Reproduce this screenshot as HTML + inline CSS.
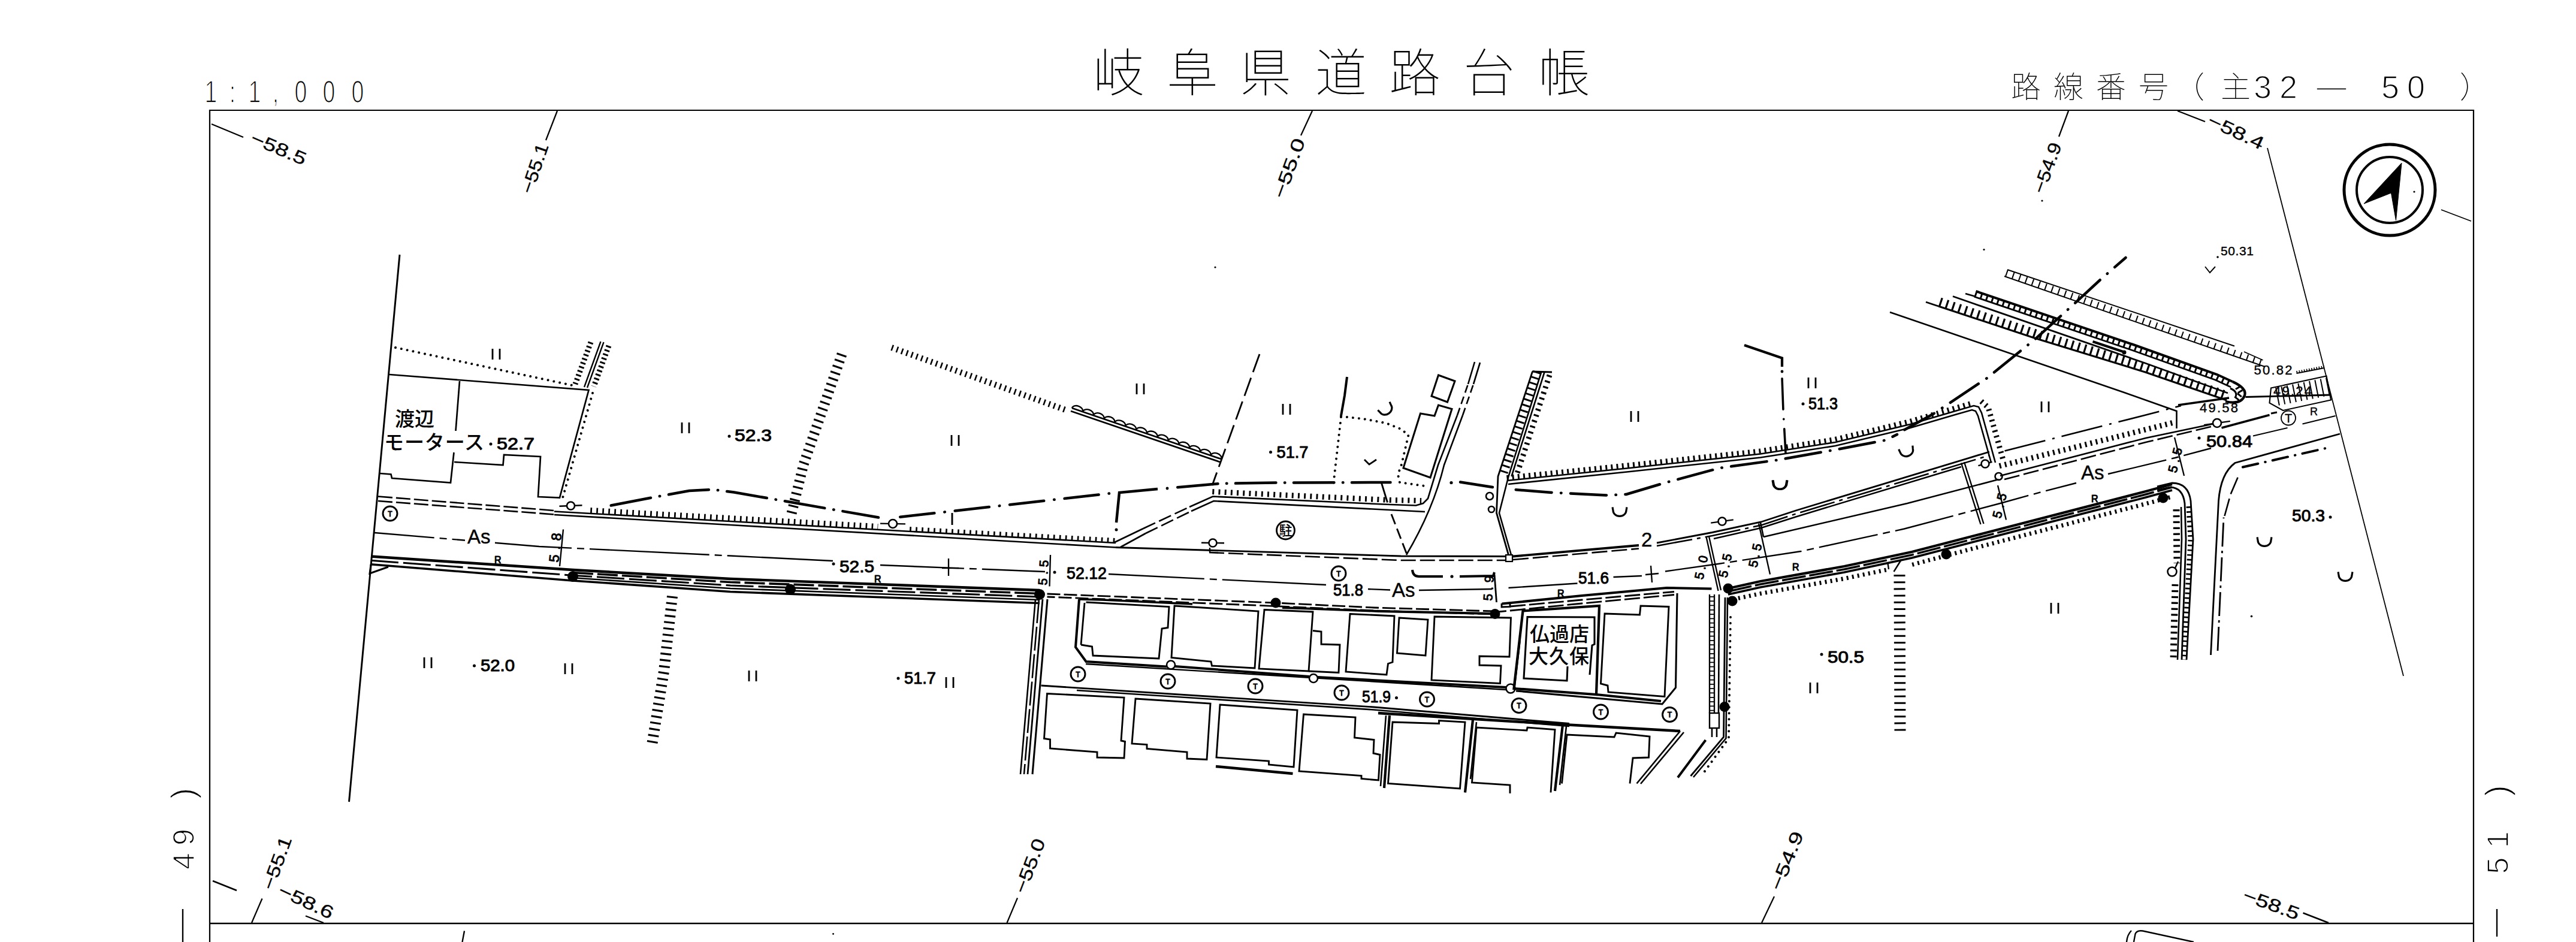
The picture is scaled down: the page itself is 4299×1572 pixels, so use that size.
<!DOCTYPE html>
<html lang="ja"><head><meta charset="utf-8"><title>岐阜県道路台帳</title>
<style>
html,body{margin:0;padding:0;background:#fff;}
body{width:4299px;height:1572px;overflow:hidden;font-family:"Liberation Sans","Noto Sans CJK JP",sans-serif;}
svg{display:block;position:absolute;left:0;top:0;}
svg *{vector-effect:none;}
path,line,polyline,circle,rect{stroke:#000;fill:none;stroke-linecap:butt;stroke-linejoin:miter;}
text{font-family:"Liberation Sans","Noto Sans CJK JP",sans-serif;fill:#000;stroke:none;}
text.b{font-weight:normal;stroke:#000;stroke-width:1px;stroke-linejoin:round;}
text.c{font-weight:normal;stroke:#000;stroke-width:0.3px;}
text.n{font-weight:normal;}
.t{font-weight:100;}
.thin{font-weight:normal;stroke:#fff;stroke-width:1.6px;paint-order:fill stroke;}
text.k{font-weight:500;}
text.n{stroke:#000;stroke-width:0.4px;}
.f{fill:#000;}
</style></head><body>
<svg width="4299" height="1572" viewBox="0 0 4299 1572">
<g id="frame">
<line x1="349" y1="184" x2="4129" y2="184" stroke-width="2.12" />
<line x1="350" y1="183" x2="350" y2="1572" stroke-width="2.24" />
<line x1="4128" y1="183" x2="4128" y2="1572" stroke-width="2.24" />
<line x1="349" y1="1541" x2="4129" y2="1541" stroke-width="2.71" />
</g>
<g id="titles">
<text transform="scale(0.72 1)" x="488.9 538.9 590.3 638.9 697.2 762.5 829.2" y="171" font-size="52" class="thin" text-anchor="middle">1:1,000</text>
<text x="1867 1990 2112 2238 2361 2485 2610" y="153" font-size="86" class="t" text-anchor="middle">岐阜県道路台帳</text>
<text x="3381 3452 3523 3594 3654 3731" y="163" font-size="50" class="t" text-anchor="middle">路線番号（主<tspan class="thin" font-size="54" x="3776 3819" y="164">32</tspan><tspan class="thin" x="3891" y="161">—</tspan><tspan class="thin" font-size="54" x="3989 4032" y="164">50</tspan><tspan x="4130" y="163">）</tspan></text>
</g>
<g id="misc">
<line x1="353" y1="207" x2="406" y2="229" stroke-width="2.24" />
<text transform="translate(416 238) rotate(23)" font-size="30" class="c" textLength="98" lengthAdjust="spacingAndGlyphs">−58.5</text>
<line x1="911" y1="234" x2="930" y2="185" stroke-width="2.24" />
<text transform="translate(888 325) rotate(-71)" font-size="30" class="c" textLength="86" lengthAdjust="spacingAndGlyphs">−55.1</text>
<line x1="2171" y1="226" x2="2190" y2="185" stroke-width="2.24" />
<text transform="translate(2143 333) rotate(-70)" font-size="30" class="c" textLength="104" lengthAdjust="spacingAndGlyphs">−55.0</text>
<line x1="3436" y1="228" x2="3452" y2="185" stroke-width="2.24" />
<text transform="translate(3411 325) rotate(-70)" font-size="30" class="c" textLength="88" lengthAdjust="spacingAndGlyphs">−54.9</text>
<line x1="3634" y1="185" x2="3680" y2="203" stroke-width="2.24" />
<text transform="translate(3682 208) rotate(25)" font-size="30" class="c" textLength="100" lengthAdjust="spacingAndGlyphs">−58.4</text>
<line x1="4074" y1="350" x2="4124" y2="369" stroke-width="1.77" />
<line x1="355" y1="1470" x2="395" y2="1486" stroke-width="2.6" />
<line x1="420" y1="1540" x2="437.5" y2="1499.5" stroke-width="2.24" />
<text transform="translate(456 1487) rotate(-70)" font-size="30" class="c" textLength="92" lengthAdjust="spacingAndGlyphs">−55.1</text>
<text transform="translate(462 1493) rotate(25)" font-size="30" class="c" textLength="98" lengthAdjust="spacingAndGlyphs">−58.6</text>
<line x1="510" y1="1528.5" x2="540" y2="1540" stroke-width="2.36" />
<line x1="1680.5" y1="1540" x2="1698" y2="1498.5" stroke-width="2.24" />
<text transform="translate(1711 1493) rotate(-69)" font-size="30" class="c" textLength="95" lengthAdjust="spacingAndGlyphs">−55.0</text>
<line x1="2940" y1="1540" x2="2961" y2="1496" stroke-width="2.24" />
<text transform="translate(2972 1488) rotate(-68)" font-size="30" class="c" textLength="103" lengthAdjust="spacingAndGlyphs">−54.9</text>
<text transform="translate(3741 1502) rotate(20)" font-size="30" class="c" textLength="98" lengthAdjust="spacingAndGlyphs">−58.5</text>
<line x1="3843.5" y1="1523.5" x2="3886" y2="1540" stroke-width="2.6" />
<circle cx="2028" cy="446" r="1.6" stroke-width="0.0" style="fill:#000" />
<circle cx="3311" cy="416.5" r="1.6" stroke-width="0.0" style="fill:#000" />
<circle cx="3408" cy="335" r="1.6" stroke-width="0.0" style="fill:#000" />
<circle cx="4029" cy="320" r="1.6" stroke-width="0.0" style="fill:#000" />
<circle cx="1390.5" cy="1558.5" r="1.4" stroke-width="0.0" style="fill:#000" />
<line x1="775" y1="1553.5" x2="771.5" y2="1572" stroke-width="2.36" />
<path d="M3561 1572 L3563.5 1558.5 Q3566 1552 3576 1553.5 L3661 1572" stroke-width="2.36" />
<path d="M3549 1572 Q3550 1560 3557 1553" stroke-width="2.36" />
<circle cx="3988" cy="317" r="76" stroke-width="5" style="fill:none" />
<circle cx="3988" cy="317" r="55" stroke-width="4.01" style="fill:none" />
<path d="M4008 272 L3945 340 L3990.5 322 L3998.5 368 Z" style="fill:#000" stroke-width="1"/>
<text transform="translate(324 0) rotate(-90)" x="-1437 -1397" y="0" font-size="50" class="thin" text-anchor="middle">49<tspan x="-1324" font-size="56">)</tspan></text>
<line x1="305" y1="1517" x2="305" y2="1572" stroke-width="2.36" />
<text transform="translate(4186 0) rotate(-90)" x="-1444.5 -1401" y="0" font-size="50" class="thin" text-anchor="middle">51<tspan x="-1319.5" font-size="56">)</tspan></text>
<line x1="4167" y1="1517" x2="4167" y2="1563" stroke-width="2.36" />
</g>
<g id="west">
<line x1="667" y1="425" x2="582.5" y2="1338" stroke-width="2.95" />
<path d="M660 580 L957.5 643.5" stroke-width="4" stroke-dasharray="0.01 10" style="stroke-linecap:round"/>
<path d="M989 656 L937.5 836" stroke-width="4" stroke-dasharray="0.01 10" style="stroke-linecap:round"/>
<path d="M650 625 L982.5 651 L934 830.5 L898 829 L902 762 L841 759 L839.5 776 L758 771" stroke-width="2.71" />
<path d="M757.5 755 L752 805.5 L654 798 L652.5 791.5 L634 790" stroke-width="2.71" />
<line x1="767" y1="636" x2="760.5" y2="719" stroke-width="2.71" />
<text transform="translate(659 711)" font-size="33" class="k" >渡辺</text>
<text transform="translate(641 750)" font-size="33" class="k" textLength="167" lengthAdjust="spacing">モータース</text>
<circle cx="819" cy="741" r="2.5" stroke-width="0.0" style="fill:#000" />
<text transform="translate(829 750)" font-size="27" class="b" textLength="63" lengthAdjust="spacingAndGlyphs">52.7</text>
<line x1="822" y1="582" x2="822" y2="600" stroke-width="2.83" />
<line x1="834" y1="582" x2="834" y2="600" stroke-width="2.83" />
<line x1="1138" y1="705" x2="1138" y2="723" stroke-width="2.83" />
<line x1="1150" y1="705" x2="1150" y2="723" stroke-width="2.83" />
<line x1="1588" y1="726" x2="1588" y2="744" stroke-width="2.83" />
<line x1="1600" y1="726" x2="1600" y2="744" stroke-width="2.83" />
<line x1="708" y1="1097" x2="708" y2="1115" stroke-width="2.83" />
<line x1="720" y1="1097" x2="720" y2="1115" stroke-width="2.83" />
<line x1="943" y1="1107" x2="943" y2="1125" stroke-width="2.83" />
<line x1="955" y1="1107" x2="955" y2="1125" stroke-width="2.83" />
<line x1="1250" y1="1119" x2="1250" y2="1137" stroke-width="2.83" />
<line x1="1262" y1="1119" x2="1262" y2="1137" stroke-width="2.83" />
<line x1="1579" y1="1130" x2="1579" y2="1148" stroke-width="2.83" />
<line x1="1591" y1="1130" x2="1591" y2="1148" stroke-width="2.83" />
<circle cx="1217" cy="728" r="2.5" stroke-width="0.0" style="fill:#000" />
<text transform="translate(1226 736)" font-size="27" class="b" textLength="62" lengthAdjust="spacingAndGlyphs">52.3</text>
<circle cx="791.5" cy="1111" r="2.5" stroke-width="0.0" style="fill:#000" />
<text transform="translate(802 1119.5)" font-size="27" class="b" textLength="57" lengthAdjust="spacingAndGlyphs">52.0</text>
<circle cx="1499" cy="1132" r="2.5" stroke-width="0.0" style="fill:#000" />
<text transform="translate(1509 1141)" font-size="27" class="b" textLength="53" lengthAdjust="spacingAndGlyphs">51.7</text>
<line x1="1002.5" y1="570" x2="975" y2="646" stroke-width="2.36" />
<line x1="1007.5" y1="571" x2="980" y2="647" stroke-width="2.36" />
<path d="M986 571 L960 641" stroke-width="9" stroke-dasharray="2.9700000000000006 4.23" />
<path d="M1016 577 L991 645" stroke-width="9" stroke-dasharray="2.9700000000000006 4.23" />
<path d="M631 828.5 L925 852" stroke-width="2.6" stroke-dasharray="24 6" stroke-dashoffset="0"/>
<path d="M631 836 L925 858.5" stroke-width="2.6" stroke-dasharray="24 6" stroke-dashoffset="0"/>
<circle cx="651" cy="857" r="12" stroke-width="2.95" style="fill:none" />
<text transform="translate(651 861.5)" font-size="12" class="b" text-anchor="middle">T</text>
<line x1="933.5" y1="844.7" x2="971.5" y2="843.3" stroke-width="2.36" />
<circle cx="952.5" cy="844" r="6.5" stroke-width="2.6" style="fill:#fff" />
<path d="M925 853.5 L1219 870 L1862 906" stroke-width="2.6" />
<path d="M925 859 L1219 876 L1862 913.5" stroke-width="2.6" />
<path d="M985.3 851.5 L1465.3 878.5" stroke-width="9" stroke-dasharray="2.7 7.3" />
<path d="M1518.2 882.5 L1862.2 901.5" stroke-width="7" stroke-dasharray="2.7 7.3" />
<line x1="1469.0" y1="873.6" x2="1511.0" y2="874.4" stroke-width="2.36" />
<circle cx="1490" cy="874" r="7" stroke-width="2.6" style="fill:#fff" />
<line x1="1589" y1="856" x2="1589" y2="876" stroke-width="2.95" />
<path d="M1017.5 844 L1090 830 L1150 819 L1190 817 L1225 821.5 L1466 863.5" stroke-width="4.5" stroke-dasharray="67.5 15.0 0.5 15.0" stroke-dashoffset="-2.25"  style="stroke-linecap:round"/>
<path d="M1500 863 L1851 823.5" stroke-width="4.5" stroke-dasharray="57.5 17.0 0.5 17.0" stroke-dashoffset="-2.25"  style="stroke-linecap:round"/>
<path d="M1405 591 L1341 775 L1320 861" stroke-width="17" stroke-dasharray="3.105 7.495000000000001" />
<path d="M1122 995 L1108 1120 L1088 1243" stroke-width="18" stroke-dasharray="3.105 7.495000000000001" />
<path d="M1488 580 L1781 685" stroke-width="10" stroke-dasharray="2.565 6.135" />
<path d="M1789 681 L2038 766" stroke-width="2.83" />
<path d="M1787 686 L2036 771" stroke-width="2.83" />
<path d="M1789 681 a8.5 6 19 0 1 17.8 6.07 a8.5 6 19 0 1 17.8 6.07 a8.5 6 19 0 1 17.8 6.07 a8.5 6 19 0 1 17.8 6.07 a8.5 6 19 0 1 17.8 6.07 a8.5 6 19 0 1 17.8 6.07 a8.5 6 19 0 1 17.8 6.07 a8.5 6 19 0 1 17.8 6.07 a8.5 6 19 0 1 17.8 6.07 a8.5 6 19 0 1 17.8 6.07 a8.5 6 19 0 1 17.8 6.07 a8.5 6 19 0 1 17.8 6.07 a8.5 6 19 0 1 17.8 6.07 a8.5 6 19 0 1 17.8 6.07" stroke-width="2.36" />
<path d="M625 889 L900 912 L1219 927.5 L1390 936" stroke-width="2.36" stroke-dasharray="200 9 12 9" stroke-dashoffset="100" />
<path d="M1469 943 L1744 954" stroke-width="2.36" stroke-dasharray="200 9 12 9" stroke-dashoffset="60" />
<rect x="776" y="880" width="50" height="30" style="fill:#fff;stroke:none"/>
<text transform="translate(780 907)" font-size="33" class="n" >As</text>
<text transform="translate(825 940)" font-size="16" class="b" >R</text>
<text transform="translate(1459 972)" font-size="16" class="b" >R</text>
<circle cx="1391" cy="941" r="2.5" stroke-width="0.0" style="fill:#000" />
<text transform="translate(1401 955)" font-size="27" class="b" textLength="58" lengthAdjust="spacingAndGlyphs">52.5</text>
<line x1="1583" y1="932" x2="1583" y2="961" stroke-width="2.36" />
<line x1="1572" y1="948" x2="1600" y2="948" stroke-width="2.36" />
<circle cx="1760" cy="955" r="2.5" stroke-width="0.0" style="fill:#000" />
<text transform="translate(1780 966)" font-size="27" class="b" textLength="67" lengthAdjust="spacingAndGlyphs">52.12</text>
<line x1="940" y1="883.5" x2="934" y2="945" stroke-width="2.36" />
<text transform="translate(932 939) rotate(-84)" font-size="23" class="b" textLength="49" lengthAdjust="spacing">5.8</text>
<line x1="1753" y1="926" x2="1751.5" y2="978.5" stroke-width="2.36" />
<text transform="translate(1747 977) rotate(-86)" font-size="21" class="b" textLength="42" lengthAdjust="spacing">5.5</text>
<path d="M619 928.5 L956 951.0 L1219 966.0 L1735 985.0" stroke-width="4.48" />
<path d="M956 955.6 L1219 971.5 L1735 990.5" stroke-width="3.54" stroke-dasharray="34 7" stroke-dashoffset="0"/>
<path d="M619 935.3 L956 960.2 L1219 977.0 L1735 996.0" stroke-width="3.07" stroke-dasharray="46 8" stroke-dashoffset="0"/>
<path d="M956 964.3 L1219 982.0 L1735 1001.0" stroke-width="2.6" />
<path d="M619 941.8 L956 968.9 L1219 987.5 L1735 1006.5" stroke-width="3.54" />
<path d="M619 942 L617 957 L648 946" stroke-width="2.95" />
<circle cx="956" cy="962" r="9" stroke-width="0.0" style="fill:#000" />
<circle cx="1319" cy="983.5" r="9" stroke-width="0.0" style="fill:#000" />
<circle cx="1735" cy="992" r="9" stroke-width="0.0" style="fill:#000" />
</g>
<g id="mid">
<path d="M1858 906 L1908 882" stroke-width="2.6" />
<path d="M1908 882 L1985 846" stroke-width="2.6" stroke-dasharray="22 7" stroke-dashoffset="0"/>
<path d="M1985 846 L2024 828.5 L2320.5 842 L2363 843.5 L2375 840 L2383 832 L2400 776 L2432 693" stroke-width="2.6" />
<path d="M2432 693 L2450 641" stroke-width="2.6" stroke-dasharray="13 7" stroke-dashoffset="0"/>
<path d="M2450 641 L2461 604" stroke-width="2.6" />
<path d="M1870 913 L1912 890" stroke-width="2.6" />
<path d="M1912 890 L1988 853" stroke-width="2.6" stroke-dasharray="22 7" stroke-dashoffset="0"/>
<path d="M1988 853 L2025.5 836 L2378 854" stroke-width="2.6" />
<path d="M2023.3 820.5 L2320.2 834.5 L2372.1 835.5" stroke-width="9" stroke-dasharray="2.9700000000000006 7.23" />
<path d="M2441 693 L2410 776 Q2392 850 2347 926" stroke-width="2.6" />
<path d="M2441 693 L2459 641" stroke-width="2.6" stroke-dasharray="13 7" stroke-dashoffset="0"/>
<path d="M2459 641 L2470 605" stroke-width="2.6" />
<path d="M1862 913.5 L2338 928 L2512 928.5" stroke-width="2.83" />
<path d="M2018 922 L2338 935 L2512 935" stroke-width="2.6" stroke-dasharray="25 7" stroke-dashoffset="0"/>
<path d="M1863 872 L1868 822 L1932 816" stroke-width="4.5" />
<circle cx="1863" cy="884" r="2.5" stroke-width="0.0" style="fill:#000" />
<circle cx="1948" cy="815" r="2.45" stroke-width="0.0" style="fill:#000" />
<path d="M1963 813.5 L2035.5 807 L2134 805.5 L2320.5 805" stroke-width="4.5" stroke-dasharray="67.5 14.5 0.5 14.5" stroke-dashoffset="-2.25"  style="stroke-linecap:round"/>
<circle cx="2422" cy="805.5" r="2.6" stroke-width="0.0" style="fill:#000" />
<path d="M2437 804.5 L2491 813" stroke-width="4.5" style="stroke-linecap:round"/>
<path d="M2305.5 806 L2315.5 838.5" stroke-width="2.83" />
<path d="M2322 858 L2349 928" stroke-width="2.83" stroke-dasharray="18 8" stroke-dashoffset="0"/>
<path d="M2238 696 L2225.5 806" stroke-width="4" stroke-dasharray="0.01 10" style="stroke-linecap:round"/>
<path d="M2238 695 L2275.5 699 L2313 706 L2338 716 L2350.5 726 L2339 775 L2333 792 L2336 805 L2378 811" stroke-width="4" stroke-dasharray="0.01 10" style="stroke-linecap:round"/>
<path d="M2248 629 L2244 660 L2238 694" stroke-width="4" />
<path d="M2370.5 690 L2394 694 L2400.5 676 L2423 682.5 L2387 797 L2342 781 Z" stroke-width="3.07" />
<path d="M2400.5 626 L2428 636 L2415.5 671 L2389 661 Z" stroke-width="3.07" />
<path transform="translate(2313 683) rotate(-35)" d="M-12 -6.6000000000000005 L-11 -1.2000000000000002 A11 9.600000000000001 0 0 0 11 -1.2000000000000002 L12 -6.6000000000000005" stroke-width="3.2"/>
<path d="M2277 767 l8 8 l12 -8" stroke-width="2.83" />
<path d="M2102 591 L2023 810" stroke-width="2.83" stroke-dasharray="32 10" stroke-dashoffset="0"/>
<line x1="1897" y1="640" x2="1897" y2="658" stroke-width="2.83" />
<line x1="1909" y1="640" x2="1909" y2="658" stroke-width="2.83" />
<line x1="2141" y1="674" x2="2141" y2="692" stroke-width="2.83" />
<line x1="2153" y1="674" x2="2153" y2="692" stroke-width="2.83" />
<circle cx="2120.5" cy="754.5" r="2.5" stroke-width="0.0" style="fill:#000" />
<text transform="translate(2130.5 764)" font-size="27" class="b" textLength="53" lengthAdjust="spacingAndGlyphs">51.7</text>
<circle cx="2145.5" cy="885" r="15" stroke-width="2.83" style="fill:none" />
<text transform="translate(2145.5 893)" font-size="22" class="k" text-anchor="middle">駐</text>
<line x1="2005.0" y1="905.7" x2="2043.0" y2="906.3" stroke-width="2.36" />
<circle cx="2024" cy="906" r="6.5" stroke-width="2.6" style="fill:#fff" />
<line x1="2019" y1="914" x2="2019" y2="922" stroke-width="2.36" />
<path d="M1850 958 L2213 976" stroke-width="2.36" stroke-dasharray="200 9 12 9" stroke-dashoffset="40" />
<text transform="translate(2225 993.5)" font-size="27" class="b" textLength="50" lengthAdjust="spacingAndGlyphs">51.8</text>
<line x1="2283" y1="983" x2="2320" y2="984.5" stroke-width="2.36" />
<text transform="translate(2323 996)" font-size="33" class="n" >As</text>
<line x1="2368" y1="985" x2="2490" y2="983" stroke-width="2.36" />
<circle cx="2234" cy="957" r="12" stroke-width="2.95" style="fill:none" />
<text transform="translate(2234 961.5)" font-size="12" class="b" text-anchor="middle">T</text>
<path d="M2357 951 Q2358 962 2368 962 L2408 962" stroke-width="4" />
<circle cx="2423" cy="962" r="2.6" stroke-width="0.0" style="fill:#000" />
<path d="M2436 962 L2492 961 L2494 955" stroke-width="4" />
<line x1="2494" y1="958.5" x2="2497.5" y2="1005" stroke-width="2.83" />
<text transform="translate(2490 1003) rotate(-86)" font-size="21" class="b" textLength="42" lengthAdjust="spacing">5.9</text>
<path d="M1747.5 991 L2129 1006 L2293 1014 L2494 1020" stroke-width="2.83" stroke-dasharray="22 6" stroke-dashoffset="0"/>
<path d="M1747.5 996 L2129 1011.5 L2293 1019 L2494 1025" stroke-width="2.83" stroke-dasharray="22 6" stroke-dashoffset="9"/>
<circle cx="2129" cy="1006" r="8.5" stroke-width="0.0" style="fill:#000" />
<circle cx="2495" cy="1024.5" r="8.5" stroke-width="0.0" style="fill:#000" />
<path d="M1728 1000 L1703 1292" stroke-width="2.6" />
<path d="M1734 1000 L1709 1292" stroke-width="2.6" stroke-dasharray="40 6" stroke-dashoffset="0"/>
<path d="M1740 1000 L1715 1292" stroke-width="2.83" />
<path d="M1748 1000 L1723 1292" stroke-width="3.07" />
<path d="M1801 1000 L1795 1080 L1812.5 1104 L1947 1112.5" stroke-width="4.01" />
<path d="M1961 1112 L2185 1129" stroke-width="4.01" />
<path d="M2199 1130 L2514 1147" stroke-width="4.01" />
<path d="M1812 1108 L2514 1151" stroke-width="2.36" />
<path d="M1810 1006 L1804 1076" stroke-width="2.83" />
<path d="M1812.5 1005 L1951 1012.5 L1949 1047.5 L1939 1049 L1934 1099 L1824 1094 L1822.5 1079 L1804 1076" stroke-width="2.89" />
<path d="M1960 1011 L2100 1020 L2094 1115 L2022.5 1111 L2021 1104 L1955 1097.5 Z" stroke-width="2.89" />
<path d="M2110 1017.5 L2191 1021 L2184 1120 L2101 1116 Z" stroke-width="2.89" />
<path d="M2191 1052.5 L2205 1054 L2205 1075 L2236 1076 L2234 1122.5 L2184 1120" stroke-width="2.89" />
<path d="M2253 1024.5 L2327 1028 L2324 1105 L2316.5 1107.5 L2314 1126 L2246 1121 Z" stroke-width="2.89" />
<path d="M2335 1031 L2383 1034 L2379 1094 L2331.5 1090 Z" stroke-width="2.89" />
<path d="M2394 1029 L2521.5 1031 L2519 1096 L2469 1095 L2469 1110 L2505 1111 L2503.5 1140.5 L2389 1135 Z" stroke-width="2.89" />
<path d="M1801 1000 L1840 1001 L1990 1008" stroke-width="3.54" />
<path d="M2140 1014 L2300 1020 L2490 1024" stroke-width="3.78" />
<circle cx="1954" cy="1109.5" r="7" stroke-width="2.6" style="fill:#fff" />
<circle cx="2192" cy="1132" r="7" stroke-width="2.6" style="fill:#fff" />
<circle cx="2521" cy="1149" r="7.5" stroke-width="2.6" style="fill:#fff" />
<circle cx="1799" cy="1125" r="12" stroke-width="2.95" style="fill:none" />
<text transform="translate(1799 1129.5)" font-size="12" class="b" text-anchor="middle">T</text>
<circle cx="1949" cy="1137" r="12" stroke-width="2.95" style="fill:none" />
<text transform="translate(1949 1141.5)" font-size="12" class="b" text-anchor="middle">T</text>
<circle cx="2095" cy="1145" r="12" stroke-width="2.95" style="fill:none" />
<text transform="translate(2095 1149.5)" font-size="12" class="b" text-anchor="middle">T</text>
<circle cx="2239" cy="1156" r="12" stroke-width="2.95" style="fill:none" />
<text transform="translate(2239 1160.5)" font-size="12" class="b" text-anchor="middle">T</text>
<circle cx="2381.5" cy="1167" r="12" stroke-width="2.95" style="fill:none" />
<text transform="translate(2381.5 1171.5)" font-size="12" class="b" text-anchor="middle">T</text>
<circle cx="2535" cy="1177.5" r="12" stroke-width="2.95" style="fill:none" />
<text transform="translate(2535 1182.0)" font-size="12" class="b" text-anchor="middle">T</text>
<circle cx="2671.5" cy="1188" r="12" stroke-width="2.95" style="fill:none" />
<text transform="translate(2671.5 1192.5)" font-size="12" class="b" text-anchor="middle">T</text>
<circle cx="2786.5" cy="1192.5" r="12" stroke-width="2.95" style="fill:none" />
<text transform="translate(2786.5 1197.0)" font-size="12" class="b" text-anchor="middle">T</text>
<text transform="translate(2273 1172)" font-size="27" class="b" textLength="48" lengthAdjust="spacingAndGlyphs">51.9</text>
<circle cx="2330.5" cy="1164.5" r="2.5" stroke-width="0.0" style="fill:#000" />
<path d="M2541.5 1019.5 L2669 1011 L2664 1159 L2526.5 1149 Z" stroke-width="4.25" />
<path d="M2536 1070 L2527 1148" stroke-width="3.54" />
<path d="M2653 1126 L2657 1077 L2661 1075 L2661 1030 L2549 1029.5 L2543 1132 L2615 1136 L2616 1112" stroke-width="3.07" />
<text transform="translate(2553 1070)" font-size="33" class="k" >仏過店</text>
<text transform="translate(2551 1107)" font-size="33" class="k" textLength="101" lengthAdjust="spacing">大久保</text>
<path d="M2678 1024 L2736.5 1026 L2738 1011 L2785 1012.5 L2778 1162.5 L2684 1155 L2683 1144 L2671.5 1141 Z" stroke-width="2.89" />
<path d="M2799 990 L2796.5 1147.5 L2774 1175 L2530 1153" stroke-width="3.07" />
<path d="M2664 1159 L2772 1170" stroke-width="4.01" />
<path d="M2506.5 1007.5 L2640 994 L2781.5 981 L2856.5 982.5" stroke-width="4.01" />
<path d="M2506 1007 L2506 1013 L2520 1012.5 L2520 1006" stroke-width="2.83" />
<path d="M2520 1012 L2640 1001 L2794 987.5" stroke-width="2.83" stroke-dasharray="26 6" stroke-dashoffset="0"/>
<path d="M2500 1021 L2640 1007 L2794 992.5" stroke-width="2.83" stroke-dasharray="26 6" stroke-dashoffset="12"/>
<path d="M1737.5 1144 L2293 1180 L2619 1207.5" stroke-width="2.89" />
<path d="M1797 1152 L2293 1184.5 L2619 1212" stroke-width="2.6" />
<path d="M2300 1190 L2608 1209 L2804 1220" stroke-width="4.5" />
<path d="M1747.5 1157.5 L1876 1164 L1871 1236 L1877.5 1237.5 L1876 1265 L1831 1264 L1831 1255 L1752.5 1249 L1752.5 1234 L1742.5 1232.5 Z" stroke-width="2.89" />
<path d="M1895 1166 L2020 1174 L2014 1267.5 L1981 1266 L1981 1255 L1914 1249.5 L1914 1242.5 L1889 1241 Z" stroke-width="2.89" />
<path d="M2036 1176 L2165 1185 L2159 1280 L2117.5 1276 L2117.5 1270 L2030 1264 Z" stroke-width="2.89" />
<path d="M2029 1279 L2157.5 1291" stroke-width="4.5" />
<path d="M2175.5 1192 L2262 1197 L2260.5 1231 L2293 1234.5 L2292 1257 L2303 1259.5 L2300.5 1302 L2272 1299.5 L2272 1294.5 L2168 1287 Z" stroke-width="2.89" />
<path d="M2319 1194 L2310 1315" stroke-width="4.2" />
<path d="M2313 1194 L2304 1312" stroke-width="2.6" />
<path d="M2324 1205 L2401.5 1207.5 L2401.5 1202.5 L2445 1205 L2436.5 1316 L2316.5 1307.5 Z" stroke-width="2.89" />
<path d="M2458 1201 L2445 1322.5" stroke-width="4.2" />
<path d="M2464 1205 L2454 1300" stroke-width="2.6" />
<path d="M2520 1324 L2520 1310 L2456.5 1306 L2464 1214 L2548 1219 L2549 1214 L2595 1217.5 L2588 1322.5" stroke-width="2.89" />
<path d="M2608 1209 L2595 1320" stroke-width="4.2" />
<path d="M2614 1212 L2603 1310" stroke-width="2.6" />
<path d="M2606.5 1307.5 L2615 1226 L2694 1230 L2697 1223 L2753 1229 L2751.5 1264 L2725 1265 L2720 1307.5" stroke-width="2.89" />
<path d="M2804 1220 L2731.5 1307.5" stroke-width="2.6" />
<path d="M2810 1222 L2738 1308" stroke-width="2.6" />
</g>
<g id="east">
<path d="M2557.5 620 L2500 795 L2497.5 856 L2517.5 926" stroke-width="2.83" />
<path d="M2572.5 620 L2517.5 795 L2502 856 L2522 926" stroke-width="2.6" />
<path d="M2577.5 621 L2522.5 795" stroke-width="2.6" />
<path d="M2565 620 L2508 795" stroke-width="13" stroke-dasharray="2.9700000000000006 6.73" />
<path d="M2586 626 L2532 790" stroke-width="9" stroke-dasharray="3.24 6.66" />
<line x1="2557" y1="620" x2="2590" y2="621" stroke-width="2.83" />
<circle cx="2486" cy="828" r="6" stroke-width="2.6" style="fill:none" />
<circle cx="2489" cy="850" r="5" stroke-width="2.6" style="fill:none" />
<rect x="2513" y="926" width="11" height="11" stroke-width="2.2" style="fill:#fff"/>
<path d="M2515 802 L2720 781 L2938 757.5 L3063 738 L3188 708 L3263 686 L3294 677 L3302 679 L3307 689 L3330 772" stroke-width="2.6" />
<path d="M2517 808 L2720 787 L2938 763.5 L3063 744 L3188 714 L3263 692 L3291 684 L3297 686 L3301 694 L3323 772" stroke-width="2.6" />
<path d="M2514.5 797.0 L2719.5 776.0 L2937.4 752.5 L3062.0 733.1 L3186.7 703.2 L3261.6 681.2 L3292.6 672.2" stroke-width="8" stroke-dasharray="2.9700000000000006 6.23" />
<path d="M3306.4 669.7 L3318.2 680.1 L3343.3 768.5" stroke-width="9" stroke-dasharray="2.9700000000000006 6.23" />
<circle cx="3335.5" cy="795" r="6" stroke-width="2.6" style="fill:#fff" />
<line x1="3301.4" y1="777.1" x2="3324.6" y2="770.9" stroke-width="2.36" />
<circle cx="3313" cy="774" r="6.5" stroke-width="2.6" style="fill:#fff" />
<path d="M2527.5 817 L2591 822 L2682.5 826.5 L2714 825 L2777.5 806 L2870 781 L2967.5 767.5 L3065.5 750 L3147 734.5 L3166 725" stroke-width="4.5" stroke-dasharray="60.0 15.5 0.5 15.5" stroke-dashoffset="-2.25"  style="stroke-linecap:round"/>
<path d="M3547.5 430 L3506 466 L3461 507.5 L3397.5 565 L3316 631 L3226 691 L3175 719" stroke-width="4.5" stroke-dasharray="56.5 16.0 0.5 16.0" stroke-dashoffset="32.25"  style="stroke-linecap:round"/>
<path d="M2911 576 L2974 597.5 L2974 612" stroke-width="4.25" />
<path d="M2974 630 L2976 685 L2980 756" stroke-width="3.6" stroke-dasharray="51.4 16.05 0.5 16.05" stroke-dashoffset="-1.8"  style="stroke-linecap:round"/>
<circle cx="2974" cy="620" r="2.4" stroke-width="0.0" style="fill:#000" />
<line x1="2722" y1="686" x2="2722" y2="704" stroke-width="2.83" />
<line x1="2734" y1="686" x2="2734" y2="704" stroke-width="2.83" />
<line x1="3018" y1="630" x2="3018" y2="648" stroke-width="2.83" />
<line x1="3030" y1="630" x2="3030" y2="648" stroke-width="2.83" />
<line x1="3407" y1="670" x2="3407" y2="688" stroke-width="2.83" />
<line x1="3419" y1="670" x2="3419" y2="688" stroke-width="2.83" />
<line x1="3423" y1="1006" x2="3423" y2="1024" stroke-width="2.83" />
<line x1="3435" y1="1006" x2="3435" y2="1024" stroke-width="2.83" />
<line x1="3021" y1="1139" x2="3021" y2="1157" stroke-width="2.83" />
<line x1="3033" y1="1139" x2="3033" y2="1157" stroke-width="2.83" />
<circle cx="3009" cy="674" r="2.5" stroke-width="0.0" style="fill:#000" />
<text transform="translate(3018 682.5)" font-size="27" class="b" textLength="49" lengthAdjust="spacingAndGlyphs">51.3</text>
<circle cx="3040" cy="1092" r="2.5" stroke-width="0.0" style="fill:#000" />
<text transform="translate(3050 1106)" font-size="27" class="b" textLength="61" lengthAdjust="spacingAndGlyphs">50.5</text>
<path transform="translate(2703 853) rotate(0)" d="M-12 -6.6000000000000005 L-11 -1.2000000000000002 A11 9.600000000000001 0 0 0 11 -1.2000000000000002 L12 -6.6000000000000005" stroke-width="3.2"/>
<path transform="translate(2970 808) rotate(0)" d="M-12 -6.6000000000000005 L-11 -1.2000000000000002 A11 9.600000000000001 0 0 0 11 -1.2000000000000002 L12 -6.6000000000000005" stroke-width="3.2"/>
<path transform="translate(3182 753) rotate(-15)" d="M-12 -6.6000000000000005 L-11 -1.2000000000000002 A11 9.600000000000001 0 0 0 11 -1.2000000000000002 L12 -6.6000000000000005" stroke-width="3.2"/>
<path transform="translate(2971 808) rotate(0)" d="M-12 -6.6000000000000005 L-11 -1.2000000000000002 A11 9.600000000000001 0 0 0 11 -1.2000000000000002 L12 -6.6000000000000005" stroke-width="3.2"/>
<line x1="2855.2" y1="872.6" x2="2892.8" y2="867.4" stroke-width="2.36" />
<circle cx="2874" cy="870" r="6.5" stroke-width="2.6" style="fill:#fff" />
<path d="M2525 928.5 L2735 910" stroke-width="3.78" />
<path d="M2765 906 L2857.5 888.5 L2939 871 L2997 852 L3043 838 L3320 754" stroke-width="2.83" />
<path d="M2525 934 L2735 915.5" stroke-width="2.6" stroke-dasharray="26 7" stroke-dashoffset="0"/>
<path d="M2765 911 L2857.5 894 L2939 876.5 L2997 857.5 L3043 843.5 L3320 760" stroke-width="2.6" stroke-dasharray="60 8 6 8" stroke-dashoffset="0" />
<path d="M2860 899 L2939 881 L2997 862.5 L3043 848.5 L3273 779" stroke-width="2.6" />
<text transform="translate(2739 912)" font-size="33" class="n" >2</text>
<path d="M2943 896 L3183 840 L3335.5 800" stroke-width="2.6" />
<path d="M2938 872 L2943 896" stroke-width="2.6" />
<line x1="2517.5" y1="981" x2="2632.5" y2="973.5" stroke-width="2.36" />
<text transform="translate(2634 973.5)" font-size="27" class="b" textLength="51" lengthAdjust="spacingAndGlyphs">51.6</text>
<line x1="2692.5" y1="963" x2="2740" y2="961" stroke-width="2.36" />
<line x1="2755" y1="944" x2="2757" y2="972" stroke-width="2.36" />
<line x1="2746" y1="959" x2="2768" y2="957" stroke-width="2.36" />
<path d="M2779 953.5 L2867.5 941 L3005.5 920 L3178 882.5 L3338 840 L3410.5 820 L3465 806" stroke-width="2.36" stroke-dasharray="100 9 12 9" stroke-dashoffset="0" />
<text transform="translate(3473 800)" font-size="33" class="n" >As</text>
<path d="M3518 791 L3630 764 L3690 748" stroke-width="2.36" stroke-dasharray="100 9 12 9" stroke-dashoffset="0" />
<text transform="translate(2599 996)" font-size="16" class="b" >R</text>
<text transform="translate(2991 952)" font-size="16" class="b" >R</text>
<text transform="translate(3490 838)" font-size="16" class="b" >R</text>
<path d="M2847.5 896 L2867.5 986" stroke-width="2.36" />
<path d="M2852 895 L2872 985" stroke-width="2.36" />
<text transform="translate(2842 968) rotate(-78)" font-size="21" class="b" textLength="40" lengthAdjust="spacing">5.0</text>
<text transform="translate(2882 965) rotate(-78)" font-size="21" class="b" textLength="40" lengthAdjust="spacing">5.5</text>
<path d="M2935 873.5 L2954 958.5" stroke-width="2.36" />
<text transform="translate(2932 948) rotate(-78)" font-size="21" class="b" textLength="40" lengthAdjust="spacing">5.5</text>
<path d="M3273 772.5 L3305.5 875" stroke-width="2.36" />
<path d="M3278 771 L3310.5 874" stroke-width="2.36" />
<path d="M3334 810 L3348 867.5" stroke-width="2.36" />
<text transform="translate(3339 866) rotate(-76)" font-size="21" class="b" textLength="42" lengthAdjust="spacing">5.5</text>
<path d="M3629 730 L3645 794" stroke-width="2.36" />
<text transform="translate(3632 790) rotate(-76)" font-size="21" class="b" textLength="42" lengthAdjust="spacing">5.5</text>
<path d="M2884 982 L2938 970 L3078 945 L3190.5 921 L3310.5 890 L3581 820 L3625 808" stroke-width="4.25" />
<path d="M2884 987 L2938 975 L3078 950 L3190.5 926 L3310.5 895 L3581 825 L3625 813" stroke-width="3.54" stroke-dasharray="40 6" stroke-dashoffset="0"/>
<path d="M2884 992 L2938 980 L3078 955 L3190.5 931 L3310.5 900 L3581 830 L3625 818" stroke-width="3.54" />
<path d="M2900.9 998.4 L2938.8 990.4 L3078.8 965.4 L3150.9 950.4" stroke-width="7" stroke-dasharray="2.9700000000000006 6.23" />
<path d="M3191.2 942.3 L3311.6 910.4 L3582.1 840.4 L3623.2 829.3" stroke-width="7" stroke-dasharray="2.9700000000000006 6.23" />
<circle cx="2884" cy="982" r="8.5" stroke-width="0.0" style="fill:#000" />
<circle cx="2891" cy="1003" r="8.5" stroke-width="0.0" style="fill:#000" />
<circle cx="3248" cy="925" r="8.5" stroke-width="0.0" style="fill:#000" />
<circle cx="3610" cy="831" r="8.5" stroke-width="0.0" style="fill:#000" />
<path d="M3150.5 940 L3152 950" stroke-width="2.36" />
<path d="M3173 934 L3160.5 954" stroke-width="2.36" />
<path d="M3170 959 L3171 1224" stroke-width="19" stroke-dasharray="2.9700000000000006 8.23" />
<path d="M2853 992 L2853 1190" stroke-width="2.36" />
<path d="M2861 992 L2861 1190" stroke-width="2.36" />
<path d="M2857 995 L2857 1190" stroke-width="8" stroke-dasharray="1.7550000000000001 5.545" />
<path d="M2869 992 L2868 1190" stroke-width="2.6" />
<path d="M2879 997 L2876.5 1230 L2821.5 1295" stroke-width="2.83" />
<path d="M2883 997 L2880.5 1232 L2826 1297" stroke-width="2.6" />
<path d="M2888 1030 L2885 1232 L2840 1294" stroke-width="4" stroke-dasharray="0.01 10" style="stroke-linecap:round"/>
<rect x="2853" y="1190" width="16" height="25" stroke-width="2.4" style="fill:#fff"/>
<path d="M2857 1215 L2857 1230" stroke-width="2.6" />
<path d="M2865 1215 L2865 1230" stroke-width="2.6" />
<path d="M2846.5 1235 L2800 1297.5" stroke-width="4" />
<circle cx="2878" cy="1179.5" r="8.5" stroke-width="0.0" style="fill:#000" />
<path d="M3600 812 L3625 806 Q3652 806 3656 836 L3660 900 L3649 1101" stroke-width="2.83" />
<path d="M3600 818 L3622 813 Q3643 814 3646 840 L3648 900 L3641 1101" stroke-width="2.83" />
<path d="M3653 845 L3656 900 L3645 1101" stroke-width="9" stroke-dasharray="2.7 5.3" />
<path d="M3640 846 L3641 900 L3634 1101" stroke-width="2.6" />
<path d="M3632 850 L3633 940" stroke-width="11" stroke-dasharray="3.24 6.66" />
<path d="M3630 975 L3627 1101" stroke-width="11" stroke-dasharray="3.24 6.66" />
<circle cx="3625" cy="954" r="7.5" stroke-width="2.6" style="fill:#fff" />
<line x1="3630" y1="948" x2="3635" y2="937" stroke-width="2.36" />
<path d="M3689.5 1093 L3702.5 836 Q3706 790 3730 772.5 L3905 724" stroke-width="2.83" />
<path d="M3701 1086 L3711 863.5" stroke-width="2.83" stroke-dasharray="40 7 4 7" stroke-dashoffset="0" />
<path d="M3712.5 861 L3722.5 825 L3737.5 790" stroke-width="2.6" stroke-dasharray="30 8" stroke-dashoffset="0"/>
<path d="M3741 780 L3890 746" stroke-width="4" stroke-dasharray="26 12.25 0.5 12.25" stroke-dashoffset="-2.0"  style="stroke-linecap:round"/>
<text transform="translate(3825 870)" font-size="27" class="b" textLength="55" lengthAdjust="spacingAndGlyphs">50.3</text>
<circle cx="3889" cy="863" r="2.5" stroke-width="0.0" style="fill:#000" />
<path transform="translate(3779 903) rotate(0)" d="M-12 -6.6000000000000005 L-11 -1.2000000000000002 A11 9.600000000000001 0 0 0 11 -1.2000000000000002 L12 -6.6000000000000005" stroke-width="3.2"/>
<path transform="translate(3914 961) rotate(0)" d="M-12 -6.6000000000000005 L-11 -1.2000000000000002 A11 9.600000000000001 0 0 0 11 -1.2000000000000002 L12 -6.6000000000000005" stroke-width="3.2"/>
<circle cx="3757.5" cy="1028.5" r="1.8" stroke-width="0.0" style="fill:#000" />
<path d="M3154 521 L3545 655 L3632.5 686 L3632.5 715" stroke-width="2.6" />
<path d="M3336.7 777.7 L3579.7 717.2 L3628.6 704.7" stroke-width="9" stroke-dasharray="2.9700000000000006 6.23" />
<path d="M3338 794 L3581 731 L3700 706" stroke-width="2.6" />
<path d="M3345 800 L3581 738 L3690 712" stroke-width="2.6" stroke-dasharray="26 7" stroke-dashoffset="0"/>
<path d="M3345.5 752.5 L3581 692.5 L3640 677" stroke-width="2.6" stroke-dasharray="70 12 4 12" stroke-dashoffset="0" />
<path d="M3235 511 L3395 564 L3580 621 L3716 668" stroke-width="3.07" />
<path d="M3237.5 503.4 L3397.4 556.4 L3582.5 613.4 L3718.6 660.4" stroke-width="14" stroke-dasharray="3.24 7.76" />
<path d="M3214 504 L3235 511" stroke-width="2.83" />
<path d="M3259 494.5 L3580 606 L3718 656" stroke-width="2.83" />
<path d="M3492.5 570 L3545 587.5" stroke-width="4" />
<circle cx="3545" cy="588" r="3.5" stroke-width="0.0" style="fill:#000" />
<path d="M3297.5 486 L3560 575 L3700 625 L3726 637" stroke-width="4.01" />
<path d="M3294.5 495 L3557 584 L3697 634 L3723 646" stroke-width="2.83" />
<path d="M3296.0 490.5 L3558.5 579.5 L3698.5 629.5 L3724.5 641.5" stroke-width="9" stroke-dasharray="2.9700000000000006 6.73" />
<path d="M3280 490 L3297.5 495" stroke-width="2.83" />
<path d="M3726 637 Q3750 648 3746 660 Q3740 676 3714 670" stroke-width="4.25" />
<path d="M3722 648 Q3736 654 3730 664" stroke-width="3.07" />
<path d="M3734 646 L3740 656 L3732 666" stroke-width="9" stroke-dasharray="2.9700000000000006 4.23" />
<path d="M3350 450 L3729 577.5" stroke-width="1.89" />
<path d="M3745 587 L3776.5 601" stroke-width="1.89" />
<path d="M3345 461 L3780 612" stroke-width="1.89" />
<path d="M3348 455.5 L3778 606.5" stroke-width="11" stroke-dasharray="2.0250000000000004 9.475" />
<path d="M3790 647.5 L3882.5 627.5 L3890 667.5 L3810 685 L3787.5 672.5 Z" stroke-width="2.12" />
<path d="M3800 662 L3886 645" stroke-width="30" stroke-dasharray="2.0250000000000004 7.475" />
<path d="M3832.5 623 L3879 614" stroke-width="1.89" />
<path d="M3832.5 621 L3879 612" stroke-width="4" stroke-dasharray="1.62 2.58" />
<path d="M3635 676 L3720 664" stroke-width="3.54" />
<path d="M3747.5 662.5 L3890 659" stroke-width="2.83" />
<path d="M3707.5 714 L3787.5 692.5" stroke-width="3.54" />
<path d="M3760 727.5 L3817.5 714" stroke-width="1.89" />
<path d="M3842.5 707.5 L3897.5 694" stroke-width="1.89" />
<path d="M3790 690 L3800 688" stroke-width="2.83" />
<line x1="3678.2" y1="709.1" x2="3721.8" y2="702.9" stroke-width="2.36" />
<circle cx="3700" cy="706" r="7" stroke-width="2.6" style="fill:#fff" />
<circle cx="3819" cy="697.5" r="12" stroke-width="1.89" style="fill:none" />
<text transform="translate(3819 705)" font-size="20" class="n" text-anchor="middle">T</text>
<text transform="translate(3855 692.5)" font-size="18" class="n" >R</text>
<text transform="translate(3761.5 625)" font-size="22" class="n" textLength="64" lengthAdjust="spacing">50.82</text>
<text transform="translate(3794 660)" font-size="22" class="n" textLength="64" lengthAdjust="spacing">49.24</text>
<text transform="translate(3671 687.5)" font-size="22" class="n" textLength="64" lengthAdjust="spacing">49.58</text>
<text transform="translate(3706 426)" font-size="21" class="n" textLength="55" lengthAdjust="spacing">50.31</text>
<circle cx="3701" cy="429" r="1.8" stroke-width="0.0" style="fill:#000" />
<path d="M3680 445 l8 10 l9 -10" stroke-width="1.89" />
<circle cx="3670" cy="731" r="2.5" stroke-width="0.0" style="fill:#000" />
<text transform="translate(3682 746)" font-size="27" class="b" textLength="77" lengthAdjust="spacingAndGlyphs">50.84</text>
<path d="M3784 247 L4011 1128" stroke-width="1.77" />
</g>
</svg>
</body></html>
